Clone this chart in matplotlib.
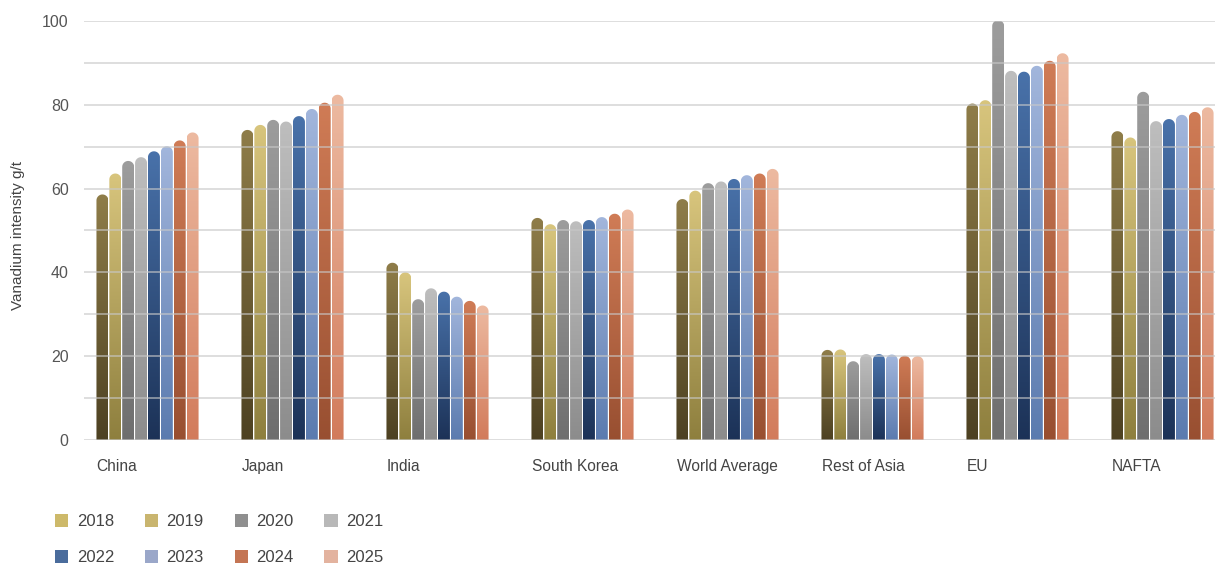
import numpy as np
import matplotlib
matplotlib.use('Agg')
import matplotlib.pyplot as plt
from matplotlib.path import Path
from matplotlib.patches import PathPatch, Patch
from matplotlib.colors import LinearSegmentedColormap

plt.rcParams['font.family'] = ['Liberation Sans', 'DejaVu Sans']

categories = ['China', 'Japan', 'India', 'South Korea', 'World Average',
              'Rest of Asia', 'EU', 'NAFTA']
years = ['2018', '2019', '2020', '2021', '2022', '2023', '2024', '2025']

# one list per year, values per category
v2018 = [58.6, 74.0, 42.3, 53.0, 57.5, 21.5, 80.3, 73.7]
v2019 = [63.6, 75.2, 40.0, 51.5, 59.5, 21.6, 81.1, 72.2]
v2020 = [66.6, 76.4, 33.6, 52.5, 61.3, 18.8, 100.2, 83.1]
v2021 = [67.5, 76.0, 36.2, 52.2, 61.7, 20.5, 88.1, 76.1]
v2022 = [68.9, 77.3, 35.4, 52.5, 62.3, 20.5, 87.9, 76.6]
v2023 = [70.1, 79.0, 34.2, 53.2, 63.2, 20.4, 89.3, 77.6]
v2024 = [71.5, 80.5, 33.2, 54.0, 63.6, 20.1, 90.5, 78.3]
v2025 = [73.4, 82.4, 32.1, 55.0, 64.7, 20.0, 92.3, 79.4]
values = [v2018, v2019, v2020, v2021, v2022, v2023, v2024, v2025]

# bar gradients (top, bottom) and legend swatch colours
grad_top = ['#8f7d49', '#d8c57d', '#9d9d9d', '#bebebe', '#4972aa', '#a2b6dc', '#d07c56', '#edbaa1']
grad_bot = ['#4d4122', '#8e7f3e', '#6e6e6e', '#8c8c8c', '#1c3257', '#5b7baf', '#984f31', '#d27b5b']
legend_col = ['#cdb96a', '#c9b56f', '#8f8f8f', '#b8b8b8', '#4a6c9c', '#9aa7c9', '#c47554', '#e3b39f']

W, H = 1215, 568
fig = plt.figure(figsize=(W / 100, H / 100), dpi=100)
ax = fig.add_axes([84 / W, 128 / H, 1 - 84 / W, 419 / H])

n_cat = len(categories)
n_ser = len(years)
slot = 0.0888
bw = slot * 0.93
x = np.arange(n_cat)
ax.set_xlim(-0.438, 7.362)
ax.set_ylim(0, 100)

# pixel scales for the rounded caps
px_x = 1131 / (7.362 + 0.438)
px_y = 419 / 100
ry = (bw / 2) * px_x / px_y

theta = np.linspace(np.pi, 0, 30)
grad = np.linspace(0, 1, 256).reshape(-1, 1)

for j in range(n_ser):
    cmap = LinearSegmentedColormap.from_list('g%d' % j, [grad_bot[j], grad_top[j]])
    for i in range(n_cat):
        xc = x[i] + (j - (n_ser - 1) / 2) * slot
        h = values[j][i]
        x0, x1 = xc - bw / 2, xc + bw / 2
        arc = np.column_stack([xc + (bw / 2) * np.cos(theta),
                               h - ry + ry * np.sin(theta)])
        verts = np.vstack([[x0, 0], [x0, h - ry], arc, [x1, h - ry], [x1, 0], [x0, 0]])
        codes = [Path.MOVETO] + [Path.LINETO] * (len(verts) - 2) + [Path.CLOSEPOLY]
        patch = PathPatch(Path(verts, codes), facecolor='none', edgecolor='none')
        ax.add_patch(patch)
        im = ax.imshow(grad, cmap=cmap, origin='lower', aspect='auto',
                       extent=[x0, x1, 0, h], zorder=2)
        im.set_clip_path(patch)

ax.set_xlim(-0.438, 7.362)
ax.set_ylim(0, 100)

# grid over the bars
for g in range(0, 101, 10):
    ax.axhline(g, color='#c8c8c8', lw=1.4, alpha=0.6, zorder=3)

for s in ax.spines.values():
    s.set_visible(False)

ax.set_yticks(range(0, 101, 20))
ax.tick_params(axis='y', length=0, pad=11, labelsize=11.5, labelcolor='#555555')
ax.set_xticks(x - 4 * slot + 0.005)
ax.set_xticklabels(categories, ha='left')
ax.tick_params(axis='x', length=0, pad=14, labelsize=11.2, labelcolor='#444444')

fig.text(18 / W, 1 - 235 / H, 'Vanadium intensity g/t', rotation=90,
         ha='center', va='center', fontsize=11, color='#444444')

# legend fills row by row
order = [0, 4, 1, 5, 2, 6, 3, 7]
handles = [Patch(facecolor=legend_col[k], edgecolor='none') for k in order]
labels = [years[k] for k in order]
fig.legend(handles, labels, ncol=4, loc='upper left',
           bbox_to_anchor=(55 / W, 1 - 514 / H), frameon=False,
           fontsize=12, handlelength=0.8, handleheight=0.8,
           handletextpad=0.5, columnspacing=1.85, labelspacing=1.25,
           labelcolor='#444444', borderaxespad=0, borderpad=0)

fig.savefig('out.png', dpi=100)
